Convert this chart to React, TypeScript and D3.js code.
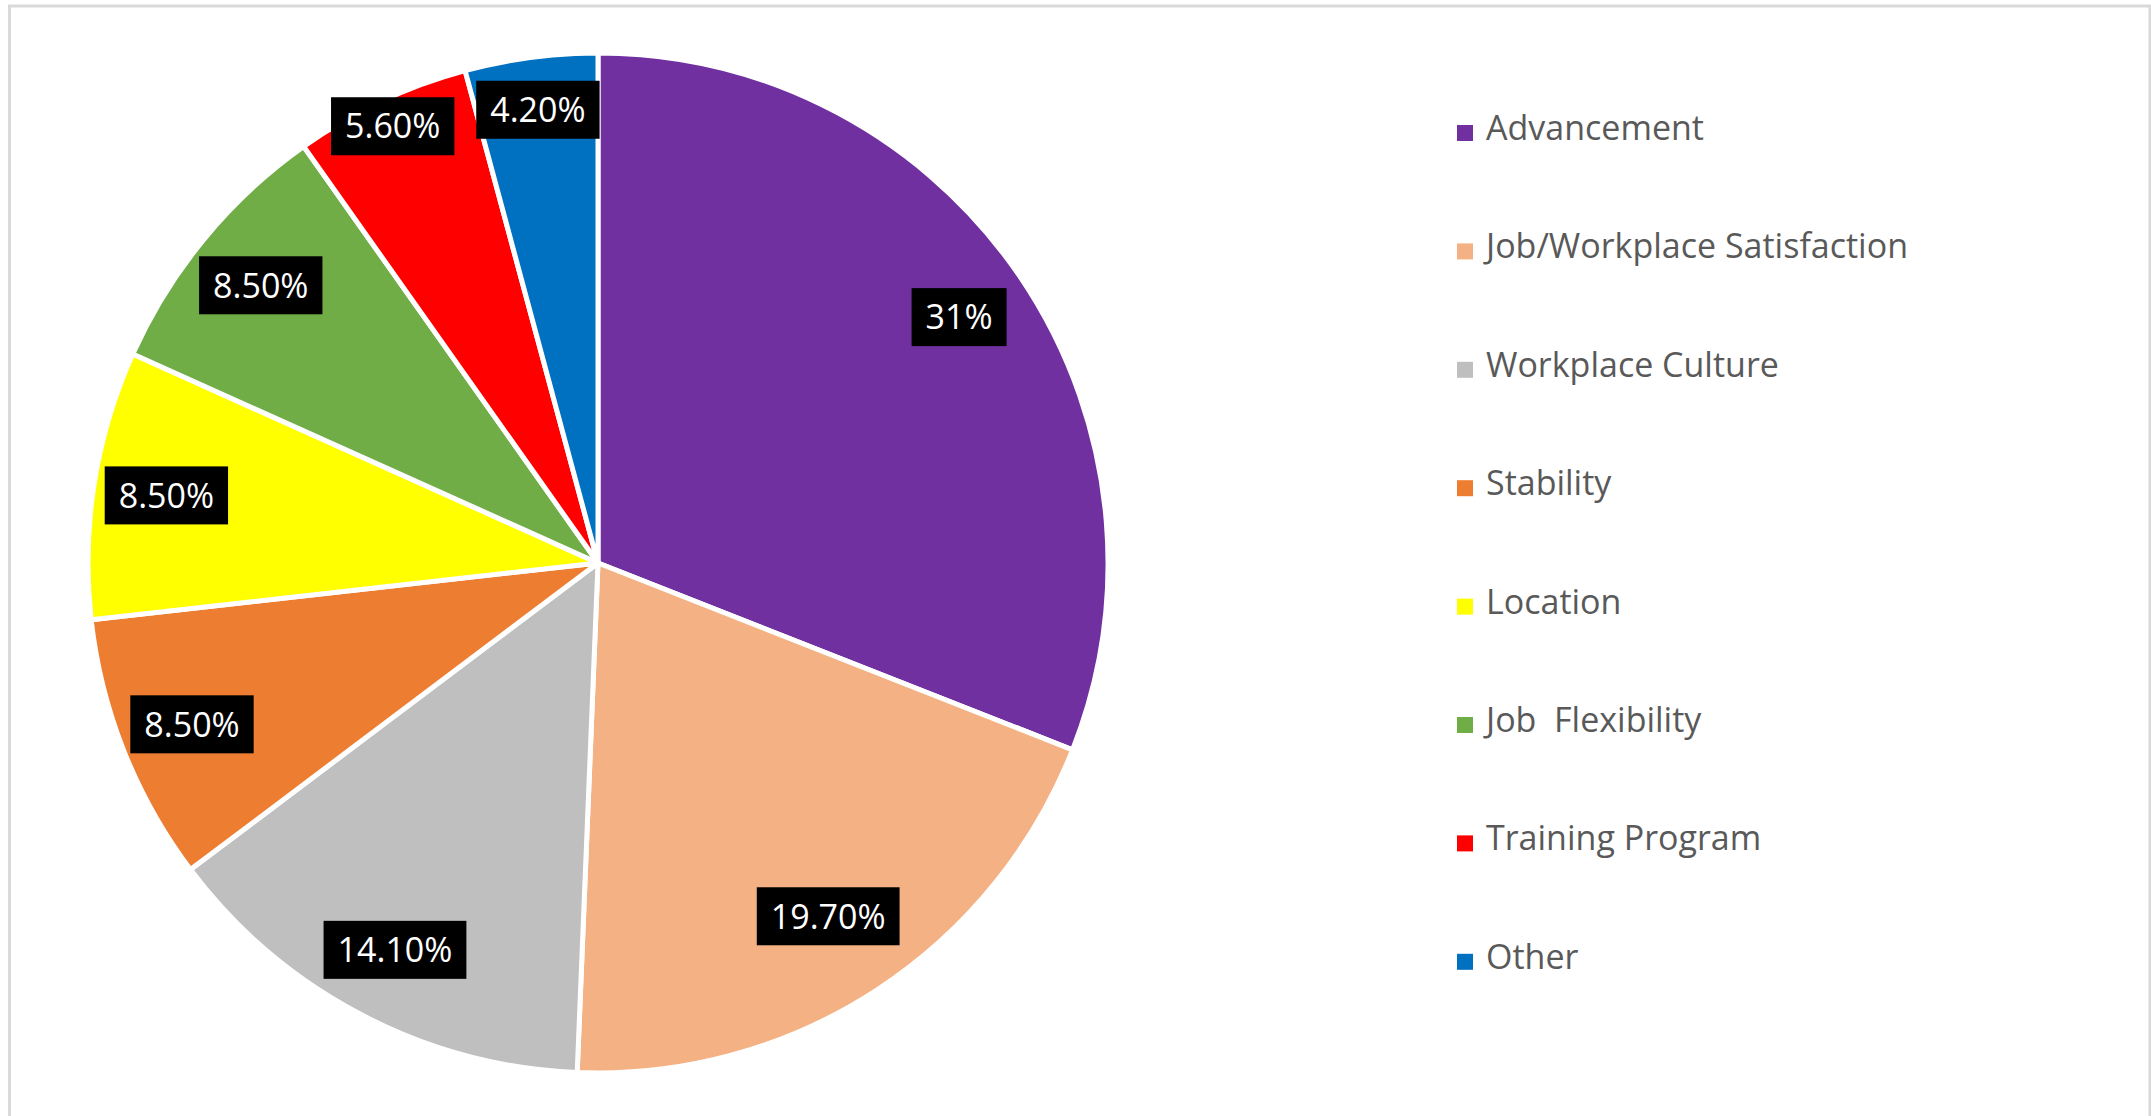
import React, { useEffect, useRef } from "react";
import * as d3 from "d3";

const categories = [
  "Advancement",
  "Job/Workplace Satisfaction",
  "Workplace Culture",
  "Stability",
  "Location",
  "Job  Flexibility",
  "Training Program",
  "Other",
];
const values = [31, 19.7, 14.1, 8.5, 8.5, 8.5, 5.6, 4.2];
const valueLabels = ["31%", "19.70%", "14.10%", "8.50%", "8.50%", "8.50%", "5.60%", "4.20%"];
const colors = ["#7030A0", "#F4B183", "#BFBFBF", "#ED7D31", "#FFFF00", "#70AD47", "#FF0000", "#0070C0"];

const W = 2151;
const H = 1116;

export default function App() {
  const ref = useRef<SVGSVGElement | null>(null);

  useEffect(() => {
    const svg = d3.select(ref.current);
    svg.selectAll("*").remove();

    // frame
    svg
      .append("rect")
      .attr("x", 9.5)
      .attr("y", 6)
      .attr("width", 2150 - 9.5)
      .attr("height", 1200)
      .attr("fill", "#ffffff")
      .attr("stroke", "#D9D9D9")
      .attr("stroke-width", 3);

    const cx = 598;
    const cy = 563;
    const R = 510;

    const data = categories.map((c, i) => ({ c, v: values[i], label: valueLabels[i], color: colors[i] }));
    const pie = d3
      .pie<any>()
      .value((d: any) => d.v)
      .sort(null);
    const arcs = pie(data);
    const arc = d3.arc<any>().innerRadius(0).outerRadius(R);

    const g = svg.append("g").attr("transform", `translate(${cx},${cy})`);
    g.selectAll("path.slice")
      .data(arcs)
      .enter()
      .append("path")
      .attr("class", "slice")
      .attr("d", arc as any)
      .attr("fill", (d: any) => d.data.color)
      .attr("stroke", "#ffffff")
      .attr("stroke-width", 5)
      .attr("stroke-linejoin", "round");

    // data labels (best-fit style: small slices pushed outward)
    const labelG = g.append("g");
    arcs.forEach((d: any) => {
      const v = d.data.v;
      const ratio = v < 5 ? 0.9 : v < 6 ? 0.95 : v > 15 && v < 25 ? 0.83 : 0.86;
      const lr = (R - 2) * ratio;
      const la = d3.arc<any>().innerRadius(lr).outerRadius(lr);
      const [x, y] = la.centroid(d);
      const grp = labelG.append("g").attr("transform", `translate(${x},${y})`);
      const rect = grp.append("rect").attr("fill", "#000000");
      const t = grp
        .append("text")
        .attr("text-anchor", "middle")
        .attr("dy", "0.36em")
        .attr("fill", "#ffffff")
        .style("font-family", "'Open Sans', sans-serif")
        .style("font-size", "34px")
        .text(d.data.label);
      const w = (t.node() as SVGTextElement).getComputedTextLength();
      const bw = w + 28;
      const bh = 58;
      rect.attr("x", -bw / 2).attr("y", -bh / 2).attr("width", bw).attr("height", bh);
    });

    // legend
    const legend = svg.append("g");
    const y0 = 140;
    const step = 118.4;
    categories.forEach((c, i) => {
      const by = y0 + i * step;
      legend
        .append("rect")
        .attr("x", 1457)
        .attr("y", by - 15)
        .attr("width", 16)
        .attr("height", 16)
        .attr("fill", colors[i]);
      legend
        .append("text")
        .attr("x", 1486)
        .attr("y", by)
        .attr("fill", "#595959")
        .style("font-family", "'Open Sans', sans-serif")
        .style("font-size", "34px")
        .style("white-space", "pre")
        .text(c);
    });
  }, []);

  return (
    <svg
      ref={ref}
      width={W}
      height={H}
      style={{ position: "absolute", left: 0, top: 0, display: "block", background: "#ffffff" }}
    />
  );
}
